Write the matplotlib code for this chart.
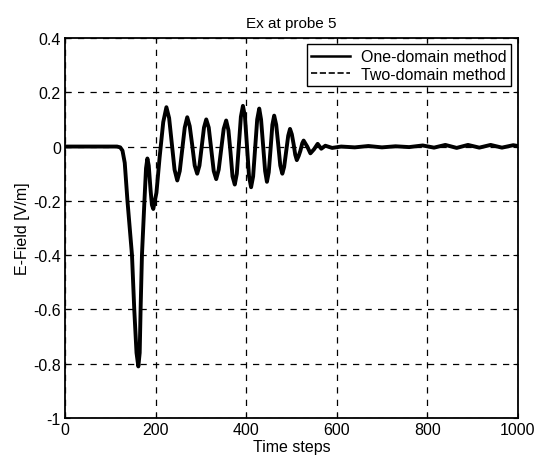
import matplotlib
matplotlib.use("Agg")
import matplotlib.pyplot as plt

plt.rcParams['font.family'] = ['Liberation Sans', 'DejaVu Sans']

# Ex at probe 5
t_steps = [0, 100, 115, 122, 127, 132, 138, 143, 148, 153, 158, 162, 165, 167, 170, 175.5, 179, 182, 185, 189, 192, 195,
           202, 209, 217, 224, 230, 236, 242, 248, 253.5, 259, 264.5, 270, 275.5, 281, 286.5, 292,
           297, 302, 307, 312, 317.5, 323, 328.5, 334, 339.5, 345, 350.5, 356, 361, 365.5, 370, 375,
           379.5, 384, 388.5, 393, 397.5, 402, 406.5, 411, 415.5, 420, 424.5, 429, 433, 437.5, 442, 446,
           450, 454, 458, 462, 466.5, 471, 475.5, 480, 484, 488.5, 493, 497, 501, 505, 508.5, 512,
           516, 520, 524, 527, 535, 542, 550, 558, 566, 575, 590, 610, 640, 670, 700, 730, 760, 790,
           815, 840, 865, 890, 915, 940, 965, 990, 1000]
ex_field = [0, 0, 0, -0.003, -0.015, -0.06, -0.2, -0.3, -0.4, -0.6, -0.76, -0.81, -0.76, -0.6, -0.4, -0.2, -0.08, -0.044, -0.07, -0.16, -0.215, -0.23,
            -0.17, -0.04, 0.09, 0.145, 0.105, 0.01, -0.085, -0.125, -0.09, -0.01, 0.07, 0.108, 0.075, 0.005, -0.07, -0.10,
            -0.07, 0.0, 0.07, 0.10, 0.07, -0.01, -0.09, -0.12, -0.085, -0.01, 0.065, 0.096, 0.06, -0.02, -0.11, -0.14,
            -0.10, 0.005, 0.11, 0.15, 0.11, 0.0, -0.11, -0.15, -0.11, -0.005, 0.10, 0.14, 0.10, 0.005, -0.09, -0.13,
            -0.095, -0.01, 0.08, 0.114, 0.08, 0.007, -0.07, -0.10, -0.075, -0.018, 0.04, 0.065, 0.045, 0.008, -0.03, -0.05,
            -0.035, -0.015, 0.012, 0.022, 0.0, -0.025, -0.01, 0.01, -0.008, 0.003, -0.005, 0.0, -0.003, 0.002, -0.003, 0.001, -0.002, 0.004,
            -0.004, 0.006, -0.005, 0.006, -0.004, 0.006, -0.004, 0.005, 0.002]

xticks = [0, 200, 400, 600, 800, 1000]
yticks = [-1, -0.8, -0.6, -0.4, -0.2, 0, 0.2, 0.4]
ytick_labels = ['-1', '-0.8', '-0.6', '-0.4', '-0.2', '0', '0.2', '0.4']

fig = plt.figure(figsize=(5.41, 4.64), dpi=100)
ax = fig.add_axes([0.1201, 0.097, 0.837, 0.819])

ax.plot(t_steps, ex_field, color='black', lw=2.8, label='One-domain method')
ax.plot(t_steps, ex_field, color='black', lw=1.2, ls='--', label='Two-domain method')

ax.set_xlim(0, 1000)
ax.set_ylim(-1, 0.4)
ax.set_xticks(xticks)
ax.set_yticks(yticks)
ax.set_yticklabels(ytick_labels)
ax.tick_params(direction='in', top=True, right=True, labelsize=11.5, pad=3)
ax.grid(True, color='black', ls=(0, (5, 5)), lw=0.9)
for s in ax.spines.values():
    s.set_linewidth(1.3)

ax.set_title('Ex at probe 5', fontsize=11, pad=8)
ax.set_xlabel('Time steps', fontsize=11.5, labelpad=1)
ax.set_ylabel('E-Field [V/m]', fontsize=11.5, labelpad=2)

leg = ax.legend(loc='upper right', fontsize=11.5, frameon=True, fancybox=False,
                borderaxespad=0.4, handlelength=2.4, handletextpad=0.7,
                borderpad=0.3, labelspacing=0.15)
leg.get_frame().set_edgecolor('black')
leg.get_frame().set_linewidth(1.0)
leg.get_frame().set_alpha(1)
leg.get_lines()[0].set_linewidth(1.8)

fig.savefig('out.png', dpi=100)
